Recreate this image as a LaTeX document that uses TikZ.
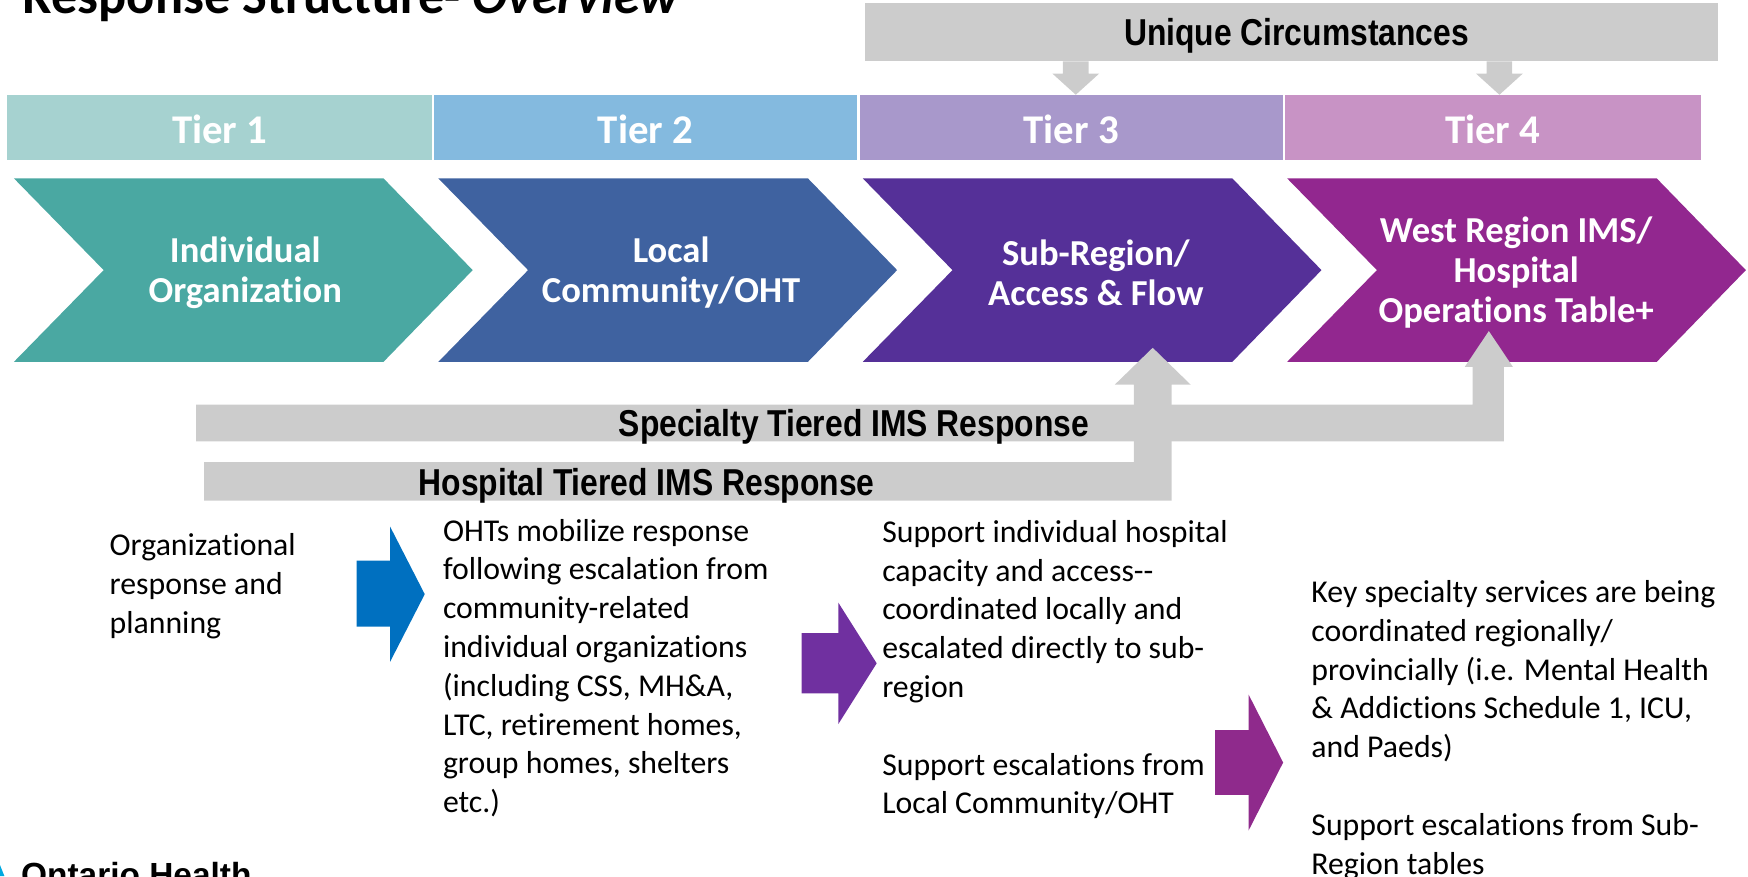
\documentclass[tikz,border=0pt]{standalone}
\usepackage{fontspec}
\setmainfont{Carlito}[Ligatures=NoCommon]
\newfontfamily\grayfont[FakeStretch=0.85]{Liberation Sans}
\newfontfamily\logofont{Liberation Sans}
\definecolor{grayc}{HTML}{CCCCCC}
\definecolor{tA}{HTML}{A6D2D0}
\definecolor{tB}{HTML}{84BADF}
\definecolor{tC}{HTML}{A898CB}
\definecolor{tD}{HTML}{C893C5}
\definecolor{cA}{HTML}{4AA8A2}
\definecolor{cB}{HTML}{3F62A0}
\definecolor{cC}{HTML}{553098}
\definecolor{cD}{HTML}{92278F}
\definecolor{arA}{HTML}{0070C0}
\definecolor{arB}{HTML}{7030A0}
\definecolor{arC}{HTML}{8F2A8C}
\definecolor{logoc}{HTML}{00A9E0}
\begin{document}
\begin{tikzpicture}[x=0.5pt,y=-0.5pt,
  graytext/.style={font=\grayfont\bfseries\fontsize{16.8}{18}\selectfont, inner sep=0},
  tiertext/.style={font=\bfseries\fontsize{18.3}{20}\selectfont, text=white, inner sep=0},
  chevtext/.style={font=\bfseries\fontsize{16.4}{18}\selectfont, text=white, align=center, inner sep=0},
  bodytext/.style={font=\fontsize{14.25}{17.4}\selectfont, align=left, anchor=north west, inner sep=0},
  downarr/.pic={\fill[grayc] (-11.5,0) -- (-11.5,11) -- (-21,11) -- (0,30) -- (21,11) -- (11.5,11) -- (11.5,0) -- cycle;}
]
\useasboundingbox (0,0) rectangle (1568,786);

% title
\node[anchor=base west, inner sep=0, font=\bfseries\fontsize{23.5}{28}\selectfont] (title) at (20,12.5) {Response Structure- \textit{Overview}};

% unique circumstances
\fill[grayc] (776,3) rectangle (1541,55);
\node[graytext] (uc) at (1163,32.5) {Unique Circumstances};
\pic at (965,55) {downarr};
\pic at (1345,55) {downarr};

% tier bars
\fill[tA] (6.5,85) rectangle (387.5,143.5);
\fill[tB] (389.5,85) rectangle (768.5,143.5);
\fill[tC] (771,85) rectangle (1150.7,143.5);
\fill[tD] (1152.7,85) rectangle (1525.6,143.5);
\node[tiertext] (t1) at (197,116) {Tier 1};
\node[tiertext] (t2) at (579,116) {Tier 2};
\node[tiertext] (t3) at (961,116) {Tier 3};
\node[tiertext] (t4) at (1339,116) {Tier 4};

% chevrons
\foreach \i/\c in {0/cA,1/cB,2/cC,3/cD}{
  \pgfmathsetmacro\L{12.5+380.7*\i}
  \fill[\c] (\L,160) -- (\L+331.5,160) -- (\L+411.5,242.3) -- (\L+331.5,324.6) -- (\L,324.6) -- (\L+80.5,242.3) -- cycle;
}
\node[chevtext] (c1) at (220,244.5) {Individual\\Organization};
\node[chevtext] (c2) at (602,244.5) {Local\\Community/OHT};
\node[chevtext] (c3) at (983,244.5) {Sub-Region/\\Access \& Flow};
\node[chevtext] (c4) at (1360,244.5) {West Region IMS/\\Hospital\\Operations Table+};

% specialty bent arrow
\fill[grayc] (176,363) -- (1321,363) -- (1321,329) -- (1314,329) -- (1335.5,297) -- (1357,329) -- (1349,329) -- (1349,396) -- (176,396) -- cycle;
\node[graytext] (spec) at (766,383) {Specialty Tiered IMS Response};
% hospital bent arrow
\fill[grayc] (183,414.5) -- (1017,414.5) -- (1017,345) -- (1000,345) -- (1034,312) -- (1068,345) -- (1051,345) -- (1051,449) -- (183,449) -- cycle;
\node[graytext] (hosp) at (580,435.5) {Hospital Tiered IMS Response};

% coloured block arrows
\fill[arA] (320,503) -- (350,503) -- (350,472.5) -- (381,533) -- (350,593.5) -- (350,562) -- (320,562) -- cycle;
\fill[arB] (719,568) -- (752,568) -- (752,540.6) -- (786.4,595) -- (752,649.5) -- (752,622) -- (719,622) -- cycle;
\fill[arC] (1090,655) -- (1120,655) -- (1120,623) -- (1151,684) -- (1120,745) -- (1120,713) -- (1090,713) -- cycle;

% body texts
\node[bodytext] (b1) at (98,474) {\rule{0pt}{12pt}Organizational\\response and\\planning};
\node[bodytext] (b2) at (397,461) {\rule{0pt}{12pt}OHTs mobilize response\\following escalation from\\community-related\\individual organizations\\(including CSS, MH\&A,\\LTC, retirement homes,\\group homes, shelters\\etc.)};
\node[bodytext] (b3) at (791,462) {\rule{0pt}{12pt}Support individual hospital\\capacity and access-{}-\\coordinated locally and\\escalated directly to sub-\\region\\[17.4pt]Support escalations from\\Local Community/OHT};
\node[bodytext] (b4) at (1176,516) {\rule{0pt}{12pt}Key specialty services are being\\coordinated regionally/\\provincially (i.e. Mental Health\\\& Addictions Schedule 1, ICU,\\and Paeds)\\[17.4pt]Support escalations from Sub-\\Region tables};

% logo
\fill[logoc] (0,776) -- (4,786) -- (0,786) -- cycle;
\node[anchor=base west, inner sep=0, font=\logofont\bfseries\fontsize{15}{18}\selectfont] (logo) at (18.5,795) {Ontario Health};
\end{tikzpicture}
\end{document}
